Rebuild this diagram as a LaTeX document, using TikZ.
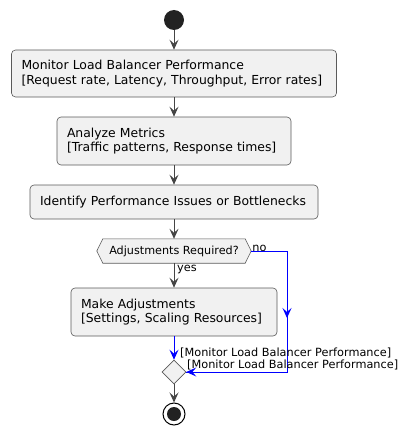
\documentclass[tikz,border=0pt]{standalone}
\usepackage{fontspec}
\setmainfont{DejaVu Sans}
\usetikzlibrary{arrows.meta,shapes.geometric}
\definecolor{boxfill}{HTML}{F1F1F1}
\definecolor{boxline}{HTML}{5A5A5A}
\definecolor{arrowc}{HTML}{454545}
\definecolor{startc}{HTML}{222222}
\begin{document}
\begin{tikzpicture}[x=1pt,y=-1pt,
  box/.style={draw=boxline, fill=boxfill, rounded corners=4pt, line width=0.6pt,
    align=left, inner xsep=10pt, inner ysep=0pt,
    font=\fontsize{12.4}{14.5}\selectfont},
  flow/.style={draw=arrowc, line width=1pt, -{Stealth[length=10pt,width=9pt,inset=4pt]}},
  bflow/.style={draw=blue, line width=1pt, -{Stealth[length=10pt,width=9pt,inset=4pt]}},
  bline/.style={draw=blue, line width=1pt},
  lbl/.style={font=\fontsize{11.3}{13}\selectfont, inner sep=0pt}
]
\useasboundingbox (0,0) rectangle (408,436);

\node[circle, fill=startc, minimum size=20pt, inner sep=0pt] (s) at (174,20) {};

\node[box, text width=305pt, minimum height=47pt] (b1) at (174,73.5)
  {Monitor Load Balancer Performance\\\relax [Request rate, Latency, Throughput, Error rates]};
\node[box, text width=214pt, minimum height=48pt] (b2) at (174,141)
  {Analyze Metrics\\\relax [Traffic patterns, Response times]};
\node[box, text width=268pt, minimum height=34pt] (b3) at (174,202)
  {Identify Performance Issues or Bottlenecks};

\node[minimum width=154pt, minimum height=24pt, inner sep=0pt] (d1) at (174,251) {};
\draw[draw=boxline, fill=boxfill, line width=0.6pt]
  (d1.west) -- ([xshift=6pt]d1.north west) -- ([xshift=-6pt]d1.north east)
  -- (d1.east) -- ([xshift=-6pt]d1.south east) -- ([xshift=6pt]d1.south west) -- cycle;
\node[inner sep=0pt, font=\fontsize{11.2}{13}\selectfont] (d1t) at (d1) {Adjustments Required?};

\node[box, text width=186pt, minimum height=48pt] (b4) at (174,312)
  {Make Adjustments\\\relax [Settings, Scaling Resources]};

\node[diamond, draw=boxline, fill=boxfill, line width=0.6pt, inner sep=0pt,
  minimum width=24pt, minimum height=24pt] (m) at (174,372) {};

\node[circle, draw=black, fill=white, line width=1pt, minimum size=22pt, inner sep=0pt] (e) at (174,414) {};
\node[circle, fill=startc, minimum size=14pt, inner sep=0pt] (ei) at (e) {};

\draw[flow] (s) -- (b1);
\draw[flow] (b1) -- (b2);
\draw[flow] (b2) -- (b3);
\draw[flow] (b3) -- (d1.north);
\draw[flow] (d1.south) -- (b4);
\node[lbl, anchor=north west] (yes) at ([xshift=3pt,yshift=-2pt]d1.south) {yes};
\node[lbl, anchor=south west] (no) at ([xshift=1pt,yshift=-1pt]d1.east) {no};

\coordinate (nr) at (287,251);
\coordinate (nm) at (287,318);
\coordinate (nb) at (287,372);
\draw[bline] (d1.east) -- (nr) -- (nb) -- (m.east);
\draw[bflow] (nr) -- (nm);
\draw[bflow] (nb) -- (m.east);
\draw[bflow] (b4) -- (m.north);

\node[lbl, anchor=west] (l1) at (180,353) {[Monitor Load Balancer Performance]};
\node[lbl, anchor=west] (l2) at (187,365) {[Monitor Load Balancer Performance]};

\draw[flow] (m.south) -- (e);
\end{tikzpicture}
\end{document}
